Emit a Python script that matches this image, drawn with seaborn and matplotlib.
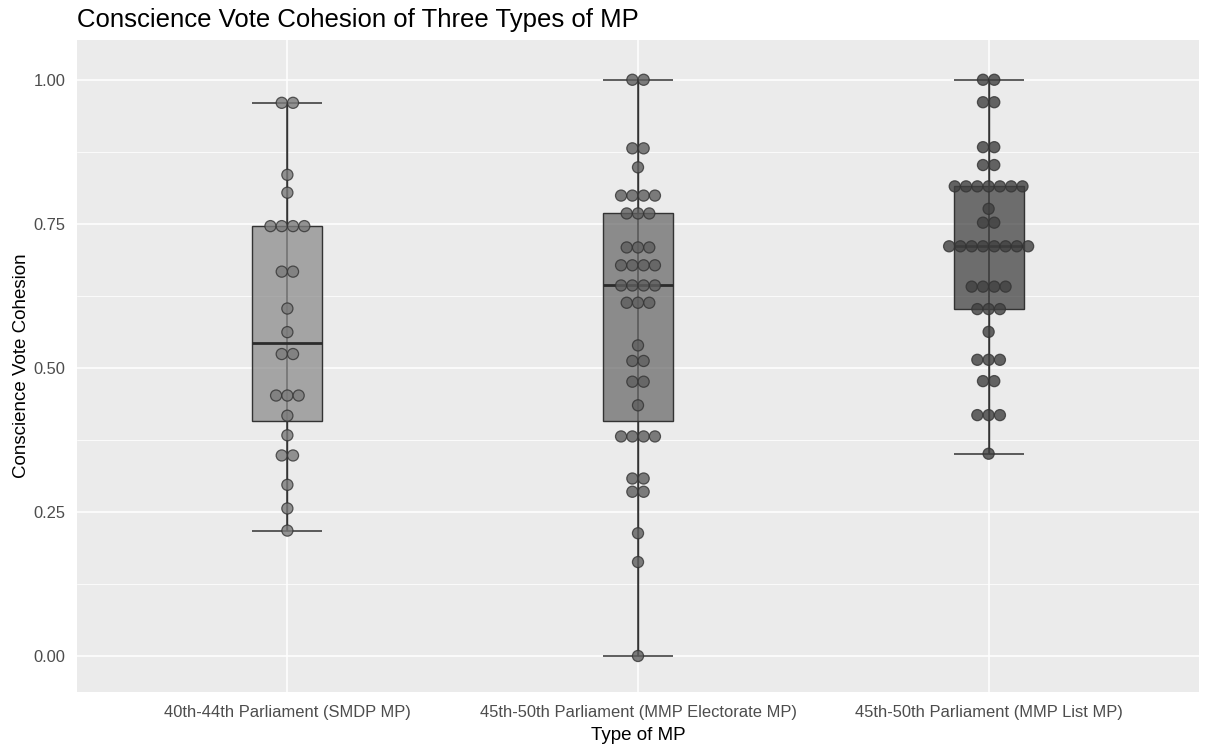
import numpy as np
import pandas as pd
import matplotlib
matplotlib.use("Agg")
import matplotlib.pyplot as plt
import seaborn as sns
from matplotlib.colors import to_rgba
from matplotlib.ticker import FixedLocator

# Conscience vote cohesion scores, one value per MP
categories = [
    "40th-44th Parliament (SMDP MP)",
    "45th-50th Parliament (MMP Electorate MP)",
    "45th-50th Parliament (MMP List MP)",
]
smdp_cohesion = [
    0.96, 0.96, 0.835, 0.804, 0.746, 0.746, 0.746, 0.746, 0.667, 0.667,
    0.603, 0.562, 0.524, 0.524, 0.452, 0.452, 0.452, 0.417, 0.383,
    0.348, 0.348, 0.297, 0.256, 0.2176,
]
electorate_cohesion = [
    1.0, 1.0, 0.881, 0.881, 0.848, 0.799, 0.799, 0.799, 0.799,
    0.768, 0.768, 0.768, 0.709, 0.709, 0.709, 0.678, 0.678, 0.678, 0.678,
    0.643, 0.643, 0.643, 0.643, 0.613, 0.613, 0.613, 0.539, 0.512, 0.512,
    0.476, 0.476, 0.435, 0.381, 0.381, 0.381, 0.381, 0.308, 0.308,
    0.285, 0.285, 0.213, 0.163, 0.0,
]
list_cohesion = [
    1.0, 1.0, 0.961, 0.961, 0.883, 0.883, 0.852, 0.852,
    0.815, 0.815, 0.815, 0.815, 0.815, 0.815, 0.815, 0.776, 0.752, 0.752,
    0.711, 0.711, 0.711, 0.711, 0.711, 0.711, 0.711, 0.711,
    0.641, 0.641, 0.641, 0.641, 0.602, 0.602, 0.602, 0.5625,
    0.514, 0.514, 0.514, 0.477, 0.477, 0.418, 0.418, 0.418, 0.351,
]
y_ticks = [0.0, 0.25, 0.5, 0.75, 1.0]
y_tick_labels = ["0.00", "0.25", "0.50", "0.75", "1.00"]

fill_colors = ["#878787", "#636363", "#383838"]
dot_colors = ["#7a7a7a", "#5e5e5e", "#404040"]
dark = "#333333"

sns.set_theme(style="darkgrid", rc={
    "axes.facecolor": "#EBEBEB",
    "grid.color": "white",
    "figure.facecolor": "white",
})
plt.rcParams["font.family"] = ["Liberation Sans", "DejaVu Sans"]

groups = [smdp_cohesion, electorate_cohesion, list_cohesion]
df = pd.concat(
    [pd.DataFrame({"type": cat, "cohesion": vals}) for cat, vals in zip(categories, groups)],
    ignore_index=True,
)

# Stack tied values side by side, centred on the category (dot-plot style)
dot_step = 0.0322
xpos = []
for i, cat in enumerate(categories):
    sub = df[df["type"] == cat]
    counts = sub.groupby("cohesion").cumcount()
    totals = sub.groupby("cohesion")["cohesion"].transform("size")
    xpos.append(i + (counts - (totals - 1) / 2) * dot_step)
df["xpos"] = pd.concat(xpos)

fig = plt.figure(figsize=(12.05, 7.49), dpi=100)
ax = fig.add_axes([77 / 1205, 57 / 749, (1199 - 77) / 1205, (692 - 40) / 749])

# full-range error bar behind each box
box_w = 0.2
for i, cat in enumerate(categories):
    v = df.loc[df["type"] == cat, "cohesion"]
    ax.vlines(i, v.min(), v.max(), color=dark, lw=1.1, zorder=1.5)
    ax.hlines([v.min(), v.max()], i - box_w / 2, i + box_w / 2, color=dark, lw=1.1, zorder=1.5)

sns.boxplot(
    data=df, x="type", y="cohesion", hue="type", order=categories,
    palette=fill_colors, width=box_w, linecolor=dark, linewidth=1.0,
    saturation=1, legend=False, ax=ax, showcaps=False, showfliers=False,
    medianprops={"linewidth": 2.0, "color": "#2b2b2b"},
)
for patch, c in zip(ax.patches, fill_colors):
    patch.set_facecolor(to_rgba(c, 0.7))
    patch.set_zorder(2)

sns.scatterplot(
    data=df, x="xpos", y="cohesion", hue="type", palette=dot_colors,
    s=64, edgecolor="#333333", linewidth=0.9, alpha=0.8, legend=False,
    ax=ax, zorder=3,
)

ax.set_xlim(-0.6, 2.6)
ax.set_ylim(-0.0625, 1.069)
ax.set_xticks(range(3))
ax.set_xticklabels(categories)
ax.set_yticks(y_ticks)
ax.set_yticklabels(y_tick_labels)
ax.yaxis.set_minor_locator(FixedLocator([0.125, 0.375, 0.625, 0.875]))
ax.grid(which="major", color="white", linewidth=1.1)
ax.grid(which="minor", axis="y", color="white", linewidth=0.55)
ax.tick_params(which="major", length=3.6, width=0.8, color=dark,
               labelcolor="#4D4D4D", labelsize=11.9)
ax.tick_params(axis="x", which="major", pad=6.0)
ax.tick_params(axis="y", which="major", pad=4.5)
ax.tick_params(which="minor", length=0)
for s in ax.spines.values():
    s.set_visible(False)

ax.set_xlabel("Type of MP", fontsize=13.5, color="black", labelpad=5)
ax.set_ylabel("Conscience Vote Cohesion", fontsize=13.5, color="black", labelpad=3)
fig.text(77 / 1205, 1 - 27 / 749, "Conscience Vote Cohesion of Three Types of MP",
         fontsize=18.5, color="black", ha="left", va="baseline")

fig.savefig("out.png", dpi=100)
